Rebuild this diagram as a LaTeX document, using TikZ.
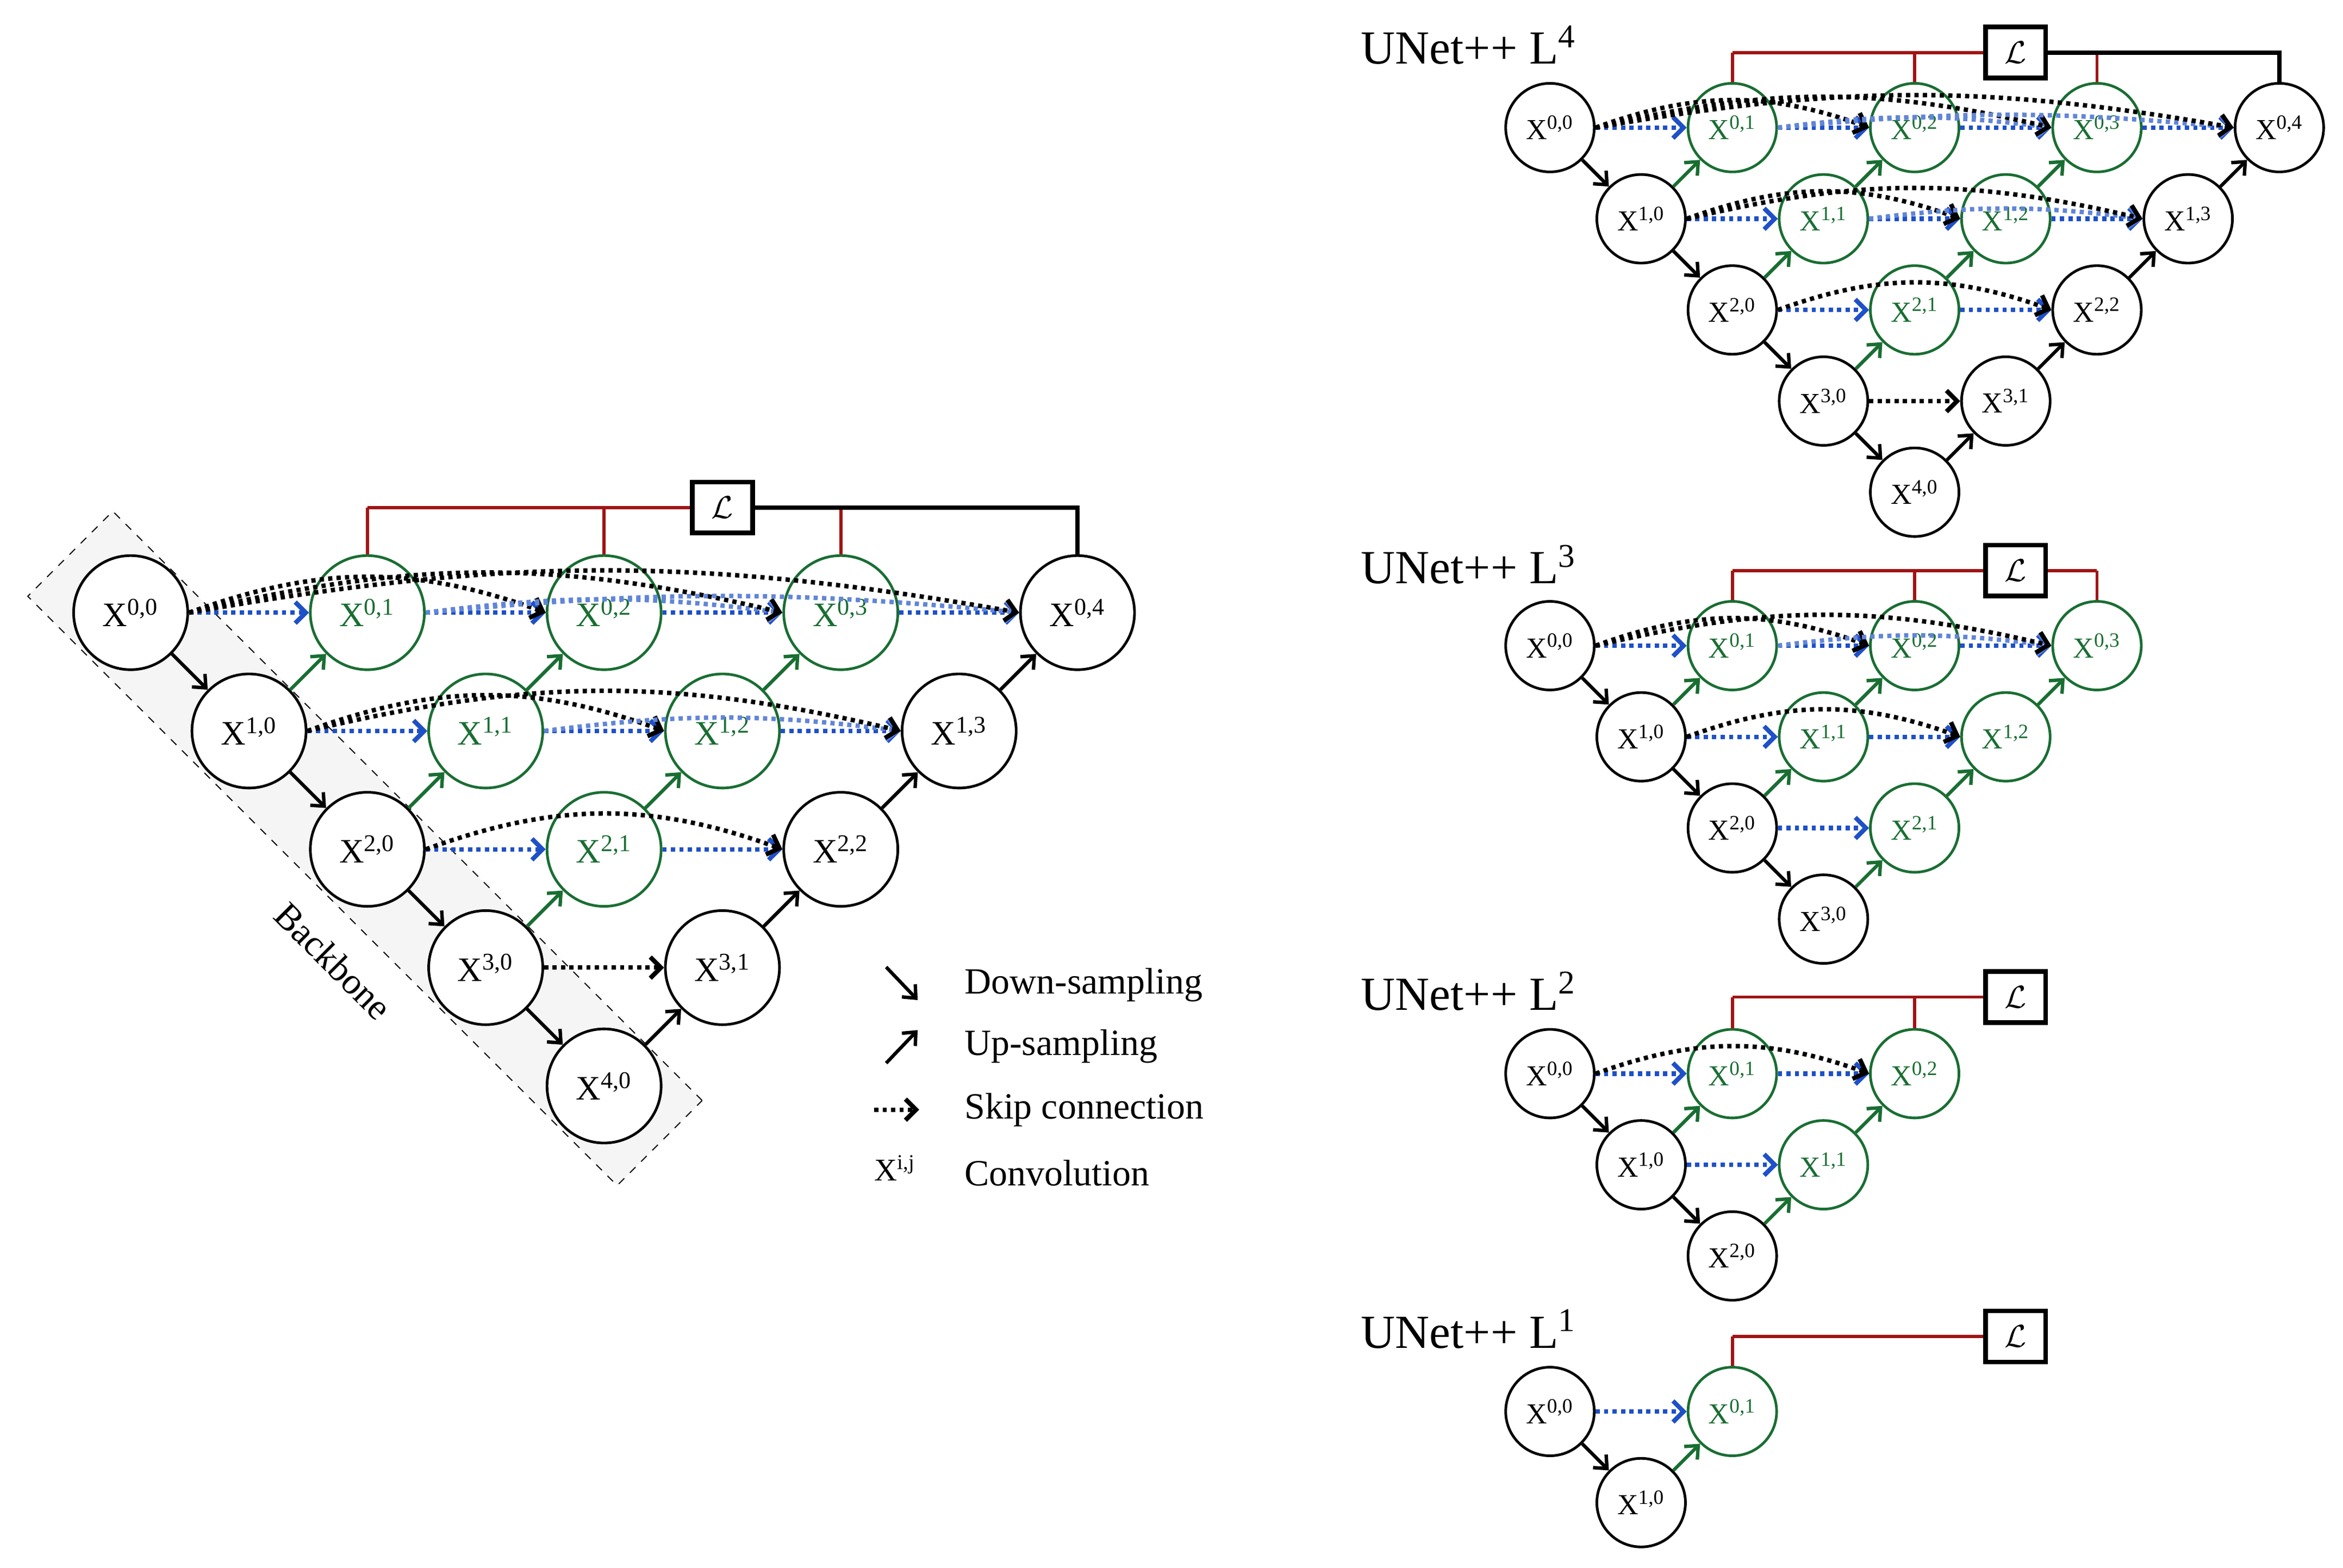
\documentclass[tikz,border=0pt]{standalone}
\usepackage{fontspec}
\setmainfont{Liberation Serif}
\usetikzlibrary{arrows.meta}
\definecolor{gr}{RGB}{25,110,50}
\definecolor{bl}{RGB}{30,80,200}
\definecolor{rd}{RGB}{160,20,20}
\tikzset{
 ndb/.style={circle,line width=1pt,fill=white,minimum size=1.52cm,inner sep=0pt,font=\fontsize{13}{15}\selectfont},
 nds/.style={circle,line width=1pt,fill=white,minimum size=1.18cm,inner sep=0pt,font=\fontsize{11}{13}\selectfont},
 ar/.style={line width=1.3pt,-{Straight Barb[length=4pt,width=7pt]}},
 sk/.style={line width=1.7pt,dash pattern=on 1.6pt off 1.6pt,-{Straight Barb[length=4pt,width=8pt]}},
 rl/.style={rd,line width=1.2pt},
 lossbox/.style={draw,line width=1.8pt,fill=white,minimum width=0.8cm,minimum height=0.68cm,inner sep=0pt,font=\large},
 ttl/.style={anchor=west,font=\fontsize{18}{20}\selectfont},
 lg/.style={anchor=west,font=\fontsize{14}{16}\selectfont},
}
% #1 prefix #2 x0 #3 y0 #4 h #5 L #6 full #7 node style
\newcommand\unet[7]{%
 \foreach \i in {0,...,#5}{%
  \pgfmathtruncatemacro\jm{#5-\i}%
  \foreach \j in {0,...,\jm}{%
   \def\col{black}\ifnum\j>0 \def\col{gr}\fi
   \ifnum#6=1 \ifnum\numexpr\i+\j\relax=#5 \def\col{black}\fi\fi
   \node[#7,draw=\col,text=\col] (#1\i\j) at ({#2+(\i+2*\j)*#4},{#3+\i*#4}) {X\textsuperscript{\i,\j}};
  }}
 \foreach \i in {0,...,#5}{%
  \pgfmathtruncatemacro\jm{#5-\i}%
  \pgfmathtruncatemacro\ip{\i+1}%
  \ifnum\i<#5 \draw[ar] (#1\i0) -- (#1\ip0);\fi
  \ifnum\jm>0
  \foreach \j in {1,...,\jm}{%
   \pgfmathtruncatemacro\jp{\j-1}%
   \def\ucol{gr}\def\scol{bl}%
   \ifnum#6=1 \ifnum\numexpr\i+\j\relax=#5 \def\ucol{black}\fi\fi
   \ifnum#6=1 \ifnum\i=\numexpr#5-1\relax \def\scol{black}\fi\fi
   \draw[ar,\ucol] (#1\ip\jp) -- (#1\i\j);
   \draw[sk,\scol] (#1\i\jp) -- (#1\i\j);
   \ifnum\j>2
    \pgfmathsetmacro\bd{22/\j}%
    \draw[sk,bl!70] (#1\i1.east) to[bend left=\bd] (#1\i\j.west);
   \fi
   \ifnum\j>1
    \pgfmathsetmacro\bd{40/\j}%
    \draw[sk,black] (#1\i0.east) to[bend left=\bd] (#1\i\j.west);
   \fi
  }\fi
 }}
% #1 prefix #2 L #3 boxx #4 liney #5 full
\newcommand\loss[5]{%
 \coordinate (#1Lc) at (#3,#4);
 \pgfmathtruncatemacro\lk{#5==1 ? #2-1 : #2}%
 \draw[rl] (#101 |- #1Lc) -- (#1Lc);
 \draw[rl] (#101 |- #1Lc) -- (#10\lk |- #1Lc);
 \foreach \j in {1,...,\lk}{\draw[rl] (#10\j |- #1Lc) -- (#10\j.north);}
 \ifnum#5=1 \draw[line width=1.6pt] (#1Lc) -- (#10#2 |- #1Lc) -- (#10#2.north);\fi
 \node[lossbox] (#1L) at (#1Lc) {$\mathcal{L}$};
}
\begin{document}
\begin{tikzpicture}[x=0.02cm,y=-0.02cm]
\useasboundingbox (0,0) rectangle (1560,1044);
% backbone
\node[draw,dashed,fill=gray!8,rotate=-45,minimum width=11.1cm,minimum height=1.6cm] (bb) at (243,565) {};
\node[rotate=-45,font=\fontsize{14}{16}\selectfont] (bbt) at (222,640) {Backbone};
\unet{a}{87}{408}{78.8}{4}{1}{ndb}
\loss{a}{4}{481}{338}{1}
% legend
\coordinate (d1) at (590,644); \coordinate (d2) at (611,666);
\coordinate (u1) at (590,708); \coordinate (u2) at (611,686);
\coordinate (s1) at (582,739); \coordinate (s2) at (612,739);
\draw[ar] (d1) -- (d2);
\draw[ar] (u1) -- (u2);
\draw[sk,black] (s1) -- (s2);
\node[lg] (t1) at (636,656) {Down-sampling};
\node[lg] (t2) at (636,697) {Up-sampling};
\node[lg] (t3) at (636,739) {Skip connection};
\node[lg] (t4) at (636,781) {Convolution};
\node[font=\fontsize{12}{14}\selectfont] (t5) at (596,778) {X\textsuperscript{i,j}};
% right
\node[ttl] (h4) at (900,30) {UNet++ L\textsuperscript{4}};
\unet{b}{1032}{85}{60.7}{4}{1}{nds}
\loss{b}{4}{1342}{35}{1}
\node[ttl] (h3) at (900,376) {UNet++ L\textsuperscript{3}};
\unet{c}{1032}{430}{60.7}{3}{0}{nds}
\loss{c}{3}{1342}{380}{0}
\node[ttl] (h2) at (900,660) {UNet++ L\textsuperscript{2}};
\unet{d}{1032}{715}{60.7}{2}{0}{nds}
\loss{d}{2}{1342}{664}{0}
\node[ttl] (h1) at (900,885) {UNet++ L\textsuperscript{1}};
\unet{e}{1032}{940}{60.7}{1}{0}{nds}
\loss{e}{1}{1342}{890}{0}
\end{tikzpicture}
\end{document}
